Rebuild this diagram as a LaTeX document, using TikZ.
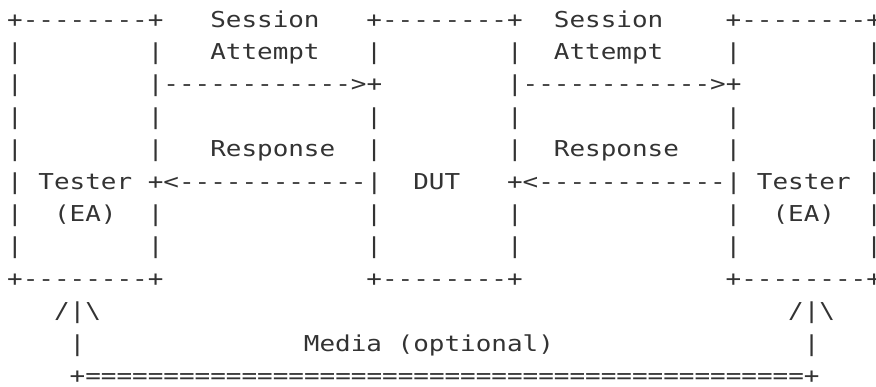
\documentclass[tikz,border=0pt]{standalone}
\usepackage{fontspec}
\usepackage{tikz}
\newfontfamily\artfont{DejaVu Sans Mono}
\definecolor{ink}{HTML}{333333}
\newcommand{\wide}[1]{\scalebox{1.185}[1]{#1}}
\tikzset{
  ascii/.style={anchor=base west, inner sep=0pt, outer sep=0pt,
    text=ink, font=\artfont\fontsize{21.9pt}{26pt}\selectfont},
}
\begin{document}
\begin{tikzpicture}[x=15.62pt, y=-32.4pt]
    \useasboundingbox (-7.2pt,27.2pt) rectangle (868.8pt,-359.8pt);

    % boxes, top edge
    \node[ascii] (top1) at (0,0) {\wide{+--------+}};
    \node[ascii] (sess1) at (13,0) {\wide{Session}};
    \node[ascii] (top2) at (23,0) {\wide{+--------+}};
    \node[ascii] (sess2) at (35,0) {\wide{Session}};
    \node[ascii] (top3) at (46,0) {\wide{+--------+}};

    \foreach \c in {0,9,23,32,46,55} {
      \node[ascii] (bar1-\c) at (\c,1) {\wide{|}};
      \node[ascii] (bar3-\c) at (\c,3) {\wide{|}};
      \node[ascii] (bar4-\c) at (\c,4) {\wide{|}};
      \node[ascii] (bar7-\c) at (\c,7) {\wide{|}};
    }
    \node[ascii] (att1) at (13,1) {\wide{Attempt}};
    \node[ascii] (att2) at (35,1) {\wide{Attempt}};

    % session attempts
    \node[ascii] (bar2-0) at (0,2) {\wide{|}};
    \node[ascii] (req1) at (9,2) {\wide{|------------>+}};
    \node[ascii] (req2) at (32,2) {\wide{|------------>+}};
    \node[ascii] (bar2-55) at (55,2) {\wide{|}};

    % responses
    \node[ascii] (resp1) at (13,4) {\wide{Response}};
    \node[ascii] (resp2) at (35,4) {\wide{Response}};
    \node[ascii] (bar5-0) at (0,5) {\wide{|}};
    \node[ascii] (tester1) at (2,5) {\wide{Tester}};
    \node[ascii] (ans1) at (9,5) {\wide{+<------------|}};
    \node[ascii] (dut) at (26,5) {\wide{DUT}};
    \node[ascii] (ans2) at (32,5) {\wide{+<------------|}};
    \node[ascii] (tester2) at (48,5) {\wide{Tester}};
    \node[ascii] (bar5-55) at (55,5) {\wide{|}};

    \foreach \c in {0,9,23,32,46,55}
      \node[ascii] (bar6-\c) at (\c,6) {\wide{|}};
    \node[ascii] (ea1) at (3,6) {\wide{(EA)}};
    \node[ascii] (ea2) at (49,6) {\wide{(EA)}};

    % boxes, bottom edge
    \node[ascii] (bot1) at (0,8) {\wide{+--------+}};
    \node[ascii] (bot2) at (23,8) {\wide{+--------+}};
    \node[ascii] (bot3) at (46,8) {\wide{+--------+}};

    % media
    \node[ascii] (up1) at (3,9) {\wide{/|\textbackslash}};
    \node[ascii] (up2) at (50,9) {\wide{/|\textbackslash}};
    \node[ascii] (leg1) at (4,10) {\wide{|}};
    \node[ascii] (media) at (19,10) {\wide{Media (optional)}};
    \node[ascii] (leg2) at (51,10) {\wide{|}};
    \node[ascii] (link) at (4,11)
      {\wide{+==============================================+}};
  \end{tikzpicture}
\end{document}
